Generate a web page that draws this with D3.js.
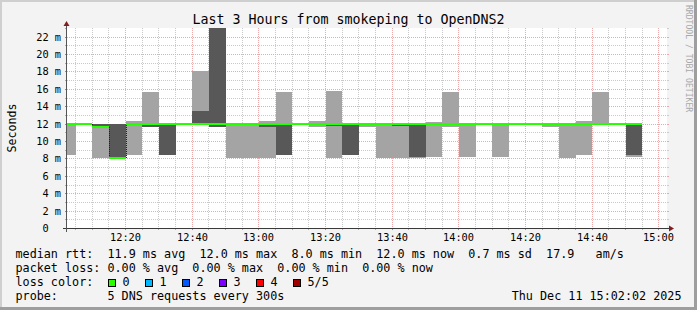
<!DOCTYPE html>
<html>
<head>
<meta charset="utf-8">
<script src="https://cdn.jsdelivr.net/npm/d3@7"></script>
<style>
html, body { margin: 0; padding: 0; background: #f3f3f3; }
svg { display: block; overflow: visible; }
text { font-family: "DejaVu Sans Mono", monospace; fill: #000; }
</style>
</head>
<body>
<div id="chart_div"></div>
<script>
const width = 697;
const height = 310;
const margin = {top: 28, left: 67};
const innerWidth = 600;
const innerHeight = 200;

// 5 minute steps starting 12:00, sorted pings of each step (ms)
const firstSlice = new Date(2025, 11, 11, 12, 0, 0);
const stepMinutes = 5;
const ping1 = [8.4, 12, 8.0, 8.0, 8.4, 11.6, 8.4, 12, 12, 11.6, 8.0, 8.0, 8.0, 8.4, 12, 11.6, 8.0, 8.4,
               11.6, 8.0, 8.0, 8.0, 8.2, 11.6, 8.2, 12, 8.2, 12, 12, 11.6, 8.0, 8.4, 12, 12, 8.2];
const ping2 = [12, 12, 11.6, 8.0, 12, 11.6, 8.4, 12, 12, 11.6, 12, 12, 11.6, 8.4, 12, 12, 11.7, 8.4,
               12, 12, 11.7, 8.2, 12, 12, 12, 12, 12, 12, 12, 12, 12, 12, 12, 12, 8.45];
const median = [12, 12, 11.6, 8.0, 12, 12, 12, 12, 12, 12, 12, 12, 12, 12, 12, 12, 12, 12,
                12, 12, 12, 12, 12, 12, 12, 12, 12, 12, 12, 12, 12, 12, 12, 12, 12];
const ping4 = [12, 12, 12, 12, 12, 12, 12, 12, 13.4, 23.0, 12, 12, 12, 12, 12, 12, 12, 12,
               12, 12, 12, 12, 12, 12, 12, 12, 12, 12, 12, 12, 12, 12, 12, 12, 12];
const ping5 = [12, 12, 12, 12, 12.3, 15.6, 12, 12, 18.1, 23.0, 12, 12, 12.3, 15.6, 12, 12.3, 15.7, 12,
               12, 12, 12, 12, 12.2, 15.6, 12, 12, 12, 12, 12, 12, 12, 12.3, 15.6, 12, 12];
const lossCount = [0, 0, 0, 0, 0, 0, 0, 0, 0, 0, 0, 0, 0, 0, 0, 0, 0, 0,
                   0, 0, 0, 0, 0, 0, 0, 0, 0, 0, 0, 0, 0, 0, 0, 0, 0];

const lossLabels = ['0', '1', '2', '3', '4', '5/5'];
const lossColors = ['#26ff00', '#00b8ff', '#0059ff', '#7e00ff', '#ff0000', '#a10000'];

const yTickValues = [0, 2, 4, 6, 8, 10, 12, 14, 16, 18, 20, 22];
const xTickLabels = ['12:20', '12:40', '13:00', '13:20', '13:40', '14:00', '14:20', '14:40', '15:00'];

const title = 'Last 3 Hours from smokeping to OpenDNS2';
const legendLines = [
    'median rtt:  11.9 ms avg  12.0 ms max  8.0 ms min  12.0 ms now  0.7 ms sd  17.9   am/s',
    'packet loss: 0.00 % avg  0.00 % max  0.00 % min  0.00 % now'
];
const probeText = 'probe:       5 DNS requests every 300s';
const dateText = 'Thu Dec 11 15:02:02 2025';

const timeStart = new Date(2025, 11, 11, 12, 2, 25);
const timeEnd = new Date(2025, 11, 11, 15, 2, 25);

const xScale = d3.scaleTime()
    .domain([timeStart, timeEnd])
    .range([margin.left, margin.left + innerWidth]);
const yScale = d3.scaleLinear()
    .domain([0, 23])
    .range([margin.top + innerHeight, margin.top]);

const svg = d3.select('#chart_div')
    .append('svg')
        .attr('width', width)
        .attr('height', height);

// background and 3d frame
svg.append('rect').attr('width', width).attr('height', height).attr('fill', '#f3f3f3');
svg.append('rect').attr('x', 0).attr('y', 0).attr('width', width).attr('height', 2).attr('fill', '#cfcfcf');
svg.append('rect').attr('x', 0).attr('y', 0).attr('width', 2).attr('height', height).attr('fill', '#cfcfcf');
svg.append('rect').attr('x', 0).attr('y', height - 3).attr('width', width).attr('height', 3).attr('fill', '#9e9e9e');
svg.append('rect').attr('x', width - 3).attr('y', 0).attr('width', 3).attr('height', height).attr('fill', '#9e9e9e');

// canvas
svg.append('rect')
    .attr('x', margin.left).attr('y', margin.top)
    .attr('width', innerWidth).attr('height', innerHeight)
    .attr('fill', '#ffffff');

const gridG = svg.append('g').attr('shape-rendering', 'crispEdges');
const px = v => Math.floor(xScale(v)) + 0.5;
const py = v => Math.round(yScale(v)) + 0.5;

const minorTimes = d3.timeMinute.every(5).range(timeStart, timeEnd);
const majorTimes = d3.timeMinute.every(20).range(timeStart, timeEnd);
const yMinor = d3.range(1, 23, 2);

gridG.selectAll('.xminor').data(minorTimes).enter()
    .append('line')
    .attr('x1', d => px(d)).attr('x2', d => px(d))
    .attr('y1', margin.top).attr('y2', margin.top + innerHeight)
    .attr('stroke', '#c9c9c9').attr('stroke-dasharray', '1,1');
gridG.selectAll('.yminor').data(yMinor).enter()
    .append('line')
    .attr('x1', margin.left).attr('x2', margin.left + innerWidth)
    .attr('y1', d => py(d)).attr('y2', d => py(d))
    .attr('stroke', '#c9c9c9').attr('stroke-dasharray', '1,1');
gridG.selectAll('.xmajor').data(majorTimes).enter()
    .append('line')
    .attr('x1', d => px(d)).attr('x2', d => px(d))
    .attr('y1', margin.top).attr('y2', margin.top + innerHeight)
    .attr('stroke', '#eeaaaa').attr('stroke-dasharray', '1,1');
gridG.selectAll('.ymajor').data(yTickValues.slice(1)).enter()
    .append('line')
    .attr('x1', margin.left).attr('x2', margin.left + innerWidth)
    .attr('y1', d => py(d)).attr('y2', d => py(d))
    .attr('stroke', '#eeaaaa').attr('stroke-dasharray', '1,1');

// small ticks outside the canvas
gridG.selectAll('.xtick').data(minorTimes).enter()
    .append('line')
    .attr('x1', d => px(d)).attr('x2', d => px(d))
    .attr('y1', margin.top + innerHeight).attr('y2', margin.top + innerHeight + 2)
    .attr('stroke', d => d.getMinutes() % 20 == 0 ? '#d07070' : '#aaaaaa');
gridG.selectAll('.ytick').data(d3.range(1, 24)).enter()
    .append('line')
    .attr('x1', margin.left - 2).attr('x2', margin.left)
    .attr('y1', d => py(d)).attr('y2', d => py(d))
    .attr('stroke', d => d % 2 == 0 ? '#d07070' : '#aaaaaa');
gridG.selectAll('.ytickr').data(d3.range(1, 24)).enter()
    .append('line')
    .attr('x1', margin.left + innerWidth).attr('x2', margin.left + innerWidth + 2)
    .attr('y1', d => py(d)).attr('y2', d => py(d))
    .attr('stroke', d => d % 2 == 0 ? '#eeaaaa' : '#cccccc');

// slices
const slices = ping1.map((p, i) => {
    const t0 = d3.timeMinute.offset(firstSlice, i * stepMinutes);
    const t1 = d3.timeMinute.offset(t0, stepMinutes);
    return {t0: t0, t1: t1, p1: p, p2: ping2[i], med: median[i], p4: ping4[i], p5: ping5[i], loss: lossCount[i],
            prev: i > 0 ? median[i - 1] : median[i]};
});
const clipX = v => Math.max(margin.left, Math.min(margin.left + innerWidth, Math.round(xScale(v))));
const ry = v => Math.round(yScale(Math.min(v, 23)));

const smokeG = svg.append('g').attr('shape-rendering', 'crispEdges');
smokeG.selectAll('.smoke1').data(slices).enter()
    .append('rect')
    .attr('x', d => clipX(d.t0))
    .attr('width', d => clipX(d.t1) - clipX(d.t0))
    .attr('y', d => ry(d.p5))
    .attr('height', d => ry(d.p1) - ry(d.p5))
    .attr('fill', '#a4a4a4');
smokeG.selectAll('.smoke2').data(slices).enter()
    .append('rect')
    .attr('x', d => clipX(d.t0))
    .attr('width', d => clipX(d.t1) - clipX(d.t0))
    .attr('y', d => ry(d.p4))
    .attr('height', d => ry(d.p2) - ry(d.p4))
    .attr('fill', '#585858');

// thin median line, only the steps show
smokeG.selectAll('.step').data(slices.filter(d => d.med != d.prev)).enter()
    .append('line')
    .attr('x1', d => clipX(d.t0) + 0.5).attr('x2', d => clipX(d.t0) + 0.5)
    .attr('y1', d => ry(d.prev))
    .attr('y2', d => ry(d.med))
    .attr('stroke', '#202020').attr('stroke-dasharray', '1,1');

// median band coloured by loss
smokeG.selectAll('.med').data(slices).enter()
    .append('rect')
    .attr('x', d => clipX(d.t0))
    .attr('width', d => clipX(d.t1) - clipX(d.t0))
    .attr('y', d => ry(d.med) - 1)
    .attr('height', 2)
    .attr('fill', d => lossColors[d.loss]);

// axes
const axisG = svg.append('g').attr('shape-rendering', 'crispEdges');
axisG.append('line')
    .attr('x1', margin.left - 4).attr('x2', margin.left + innerWidth + 4)
    .attr('y1', margin.top + innerHeight + 0.5).attr('y2', margin.top + innerHeight + 0.5)
    .attr('stroke', '#3a3a3a');
axisG.append('line')
    .attr('x1', margin.left - 0.5).attr('x2', margin.left - 0.5)
    .attr('y1', margin.top + innerHeight + 4).attr('y2', margin.top - 4)
    .attr('stroke', '#555555');
const ax = margin.left + innerWidth, ay = margin.top + innerHeight + 0.5;
svg.append('path')
    .attr('d', `M${ax + 2},${ay - 3}L${ax + 2},${ay + 3}L${ax + 7},${ay}Z`)
    .attr('fill', '#801f1f');
svg.append('path')
    .attr('d', `M${margin.left - 3.5},${margin.top - 2}L${margin.left + 2.5},${margin.top - 2}L${margin.left - 0.5},${margin.top - 7}Z`)
    .attr('fill', '#801f1f');

// tick labels
const parseHM = d3.timeParse('%Y-%m-%d %H:%M');
svg.selectAll('.xlabel').data(xTickLabels).enter()
    .append('text')
    .attr('x', d => Math.floor(xScale(parseHM('2025-12-11 ' + d))) + 0.5)
    .attr('y', 240.7)
    .attr('text-anchor', 'middle')
    .style('font-size', '10.3px')
    .text(d => d);
svg.selectAll('.ylabel').data(yTickValues).enter()
    .append('text')
    .attr('x', d => d == 0 ? 48.6 : 61)
    .attr('y', d => py(d) + 3.2)
    .attr('text-anchor', 'end')
    .style('font-size', '10.3px')
    .text(d => d == 0 ? '0' : d + ' m');

// titles
svg.append('text')
    .attr('x', width / 2).attr('y', 23.7)
    .attr('text-anchor', 'middle')
    .style('font-size', '13.3px')
    .text(title);
svg.append('text')
    .attr('transform', 'translate(15.5,128) rotate(-90)')
    .attr('text-anchor', 'middle')
    .style('font-size', '11.6px')
    .text('Seconds');
svg.append('text')
    .attr('transform', 'translate(685.5,5) rotate(90)')
    .style('font-size', '8.1px')
    .style('fill', '#a8a8a8')
    .text('RRDTOOL / TOBI OETIKER');

// legend
const legendFont = '11.76px';
svg.selectAll('.legend').data(legendLines).enter()
    .append('text')
    .attr('xml:space', 'preserve')
    .attr('x', 15.5)
    .attr('y', (d, i) => 257.8 + i * 14)
    .style('font-size', legendFont)
    .text(d => d);
svg.append('text')
    .attr('x', 15.5).attr('y', 285.8)
    .style('font-size', legendFont)
    .text('loss color:');
const lossG = svg.selectAll('.lossitem').data(lossLabels).enter()
    .append('g')
    .attr('transform', (d, i) => `translate(${108 + i * 37},0)`);
lossG.append('rect')
    .attr('x', 0.5).attr('y', 279.5).attr('width', 7).attr('height', 7)
    .attr('fill', (d, i) => lossColors[i])
    .attr('stroke', '#000').attr('shape-rendering', 'crispEdges');
lossG.append('text')
    .attr('x', 14.5).attr('y', 285.8)
    .style('font-size', legendFont)
    .text(d => d);
svg.append('text')
    .attr('xml:space', 'preserve')
    .attr('x', 15.5).attr('y', 299.6)
    .style('font-size', legendFont)
    .text(probeText);
svg.append('text')
    .attr('x', 681.5).attr('y', 299.6)
    .attr('text-anchor', 'end')
    .style('font-size', legendFont)
    .text(dateText);
</script>
</body>
</html>
